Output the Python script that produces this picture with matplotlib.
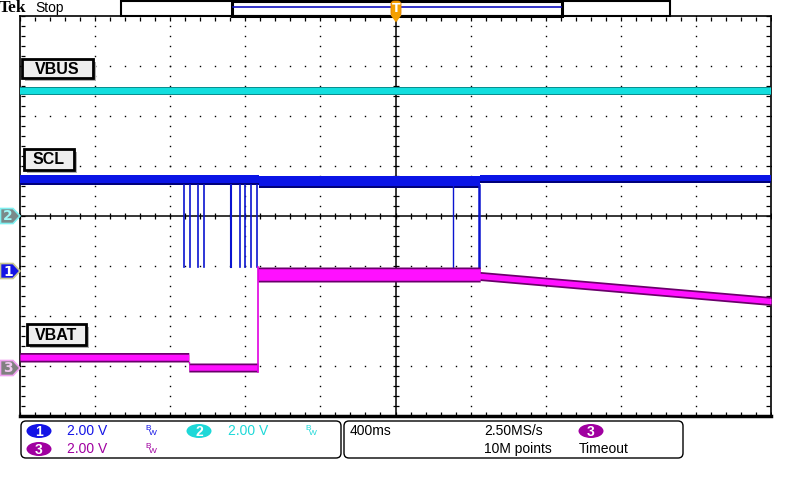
import numpy as np
import matplotlib
matplotlib.use("Agg")
import matplotlib.pyplot as plt
from matplotlib.patches import Rectangle, FancyBboxPatch, Polygon, Ellipse

# Oszilloskop-Einstellungen
time_per_div = 0.4      # s/div (400ms)
volts_per_div = 2.0     # V/div fuer alle Kanaele
ch1_offset = -1.1       # Kanalmarker in div
ch2_offset = 0.0
ch3_offset = -3.04

# VBUS (Kanal 2), Band oben/unten in V
vbus_t = [-2.0, 2.0]
vbus_hi = [5.17, 5.17]
vbus_lo = [4.83, 4.83]

# SCL (Kanal 1)
scl_t = [-2.0, -0.728, -0.728, 0.451, 0.451, 2.0]
scl_hi = [3.84, 3.84, 3.80, 3.80, 3.84, 3.84]
scl_lo = [3.44, 3.44, 3.32, 3.32, 3.52, 3.52]
scl_dip_t = [-1.126, -1.094, -1.050, -1.021, -0.874, -0.828, -0.799, -0.769, -0.737, 0.308, 0.447]
scl_dip_w = [1.2, 1.2, 1.2, 1.2, 1.5, 1.2, 1.2, 1.2, 1.2, 1.0, 1.8]
scl_low = 0.16

# VBAT (Kanal 3)
vbat_t = [-2.0, -1.101, -1.101, -0.733, -0.733, 0.451, 0.451, 2.0]
vbat_hi = [0.62, 0.62, 0.20, 0.20, 4.04, 4.04, 3.86, 2.86]
vbat_lo = [0.24, 0.24, -0.16, -0.16, 3.44, 3.44, 3.50, 2.50]

# Texte
trace_labels = ['VBUS', 'SCL', 'VBAT']
scale_text = '2.00 V'
timebase_text = '400ms'
rate_text = '2.50MS/s'
points_text = '10M points'
trigger_text = 'Timeout'

fig = plt.figure(figsize=(8, 4.8), dpi=100)
ax = fig.add_axes([20 / 800, 64 / 480, 751 / 800, 400 / 480])
ax.set_xlim(-2, 2)
ax.set_ylim(-4, 4)
ax.set_xticks([])
ax.set_yticks([])
for s in ax.spines.values():
    s.set_color('black')
    s.set_linewidth(1.2)
ax.spines['bottom'].set_linewidth(2.5)

# Raster: Punkte auf den Hauptlinien
minor_x = np.arange(-2, 2.0001, time_per_div / 5)
minor_y = np.arange(-4, 4.0001, 0.2)
for gx in np.arange(-1.6, 1.6001, time_per_div):
    if abs(gx) < 1e-9:
        continue
    ax.plot(np.full_like(minor_y, gx), minor_y, ls='none', marker='s', ms=1.0,
            mec='none', mfc='black', zorder=1)
for gy in range(-3, 4):
    if gy == 0:
        continue
    ax.plot(minor_x, np.full_like(minor_x, gy), ls='none', marker='s', ms=1.0,
            mec='none', mfc='black', zorder=1)

# Mittellinien mit Strichen
ax.axhline(0, color='black', lw=1.1, zorder=1)
ax.axvline(0, color='black', lw=1.1, zorder=1)
ax.plot(minor_x, np.zeros_like(minor_x), ls='none', marker='|', ms=5, mew=0.9, color='black', zorder=1)
ax.plot(np.zeros_like(minor_y), minor_y, ls='none', marker='_', ms=5, mew=0.9, color='black', zorder=1)
# Randstriche
ax.plot(minor_x, np.full_like(minor_x, 3.95), ls='none', marker='|', ms=2.5, mew=0.9, color='black', zorder=1)
ax.plot(minor_x, np.full_like(minor_x, -3.95), ls='none', marker='|', ms=2.5, mew=0.9, color='black', zorder=1)
ax.plot(np.full_like(minor_y, -1.985), minor_y, ls='none', marker='_', ms=2.5, mew=0.9, color='black', zorder=1)
ax.plot(np.full_like(minor_y, 1.985), minor_y, ls='none', marker='_', ms=2.5, mew=0.9, color='black', zorder=1)


def band(t, lo, hi, off, dark, core, inset_lo, inset_hi):
    lo_d = off + np.array(lo) / volts_per_div
    hi_d = off + np.array(hi) / volts_per_div
    ax.fill_between(t, lo_d, hi_d, color=dark, lw=0, zorder=3)
    ax.fill_between(t, lo_d + inset_lo, hi_d - inset_hi, color=core, lw=0, zorder=4)


# VBUS
band(vbus_t, vbus_lo, vbus_hi, ch2_offset, '#0a8f8f', '#12dede', 0.03, 0.02)

# SCL
band(scl_t, scl_lo, scl_hi, ch1_offset, '#00007a', '#0a14e6', 0.05, 0.0)
for t, w in zip(scl_dip_t, scl_dip_w):
    ax.plot([t, t], [ch1_offset + scl_low / volts_per_div, ch1_offset + scl_lo[0] / volts_per_div],
            color='#0a14d0', lw=w, zorder=3)

# VBAT
band(vbat_t, vbat_lo, vbat_hi, ch3_offset, '#6a006a', '#ff10ff', 0.035, 0.035)
ax.plot([vbat_t[3], vbat_t[3]], [ch3_offset + vbat_lo[3] / volts_per_div, ch3_offset + vbat_hi[4] / volts_per_div],
        color='#e000e0', lw=1.2, zorder=4)
ax.plot([vbat_t[1], vbat_t[1]], [ch3_offset + vbat_lo[1] / volts_per_div, ch3_offset + vbat_hi[2] / volts_per_div],
        color='#e000e0', lw=1.0, zorder=4)

# Overlay in Pixelkoordinaten
ov = fig.add_axes([0, 0, 1, 1], zorder=5)
ov.set_xlim(0, 800)
ov.set_ylim(480, 0)
ov.axis('off')
ov.patch.set_alpha(0)

# Kopfzeile
ov.text(-1, 8, 'Tek', fontsize=12.5, fontweight='bold', family='Liberation Serif', va='center', ha='left')
ov.text(35, 8, 'Stop', fontsize=10, family='Liberation Sans', va='center', ha='left')
ov.add_patch(Rectangle((121, 0.5), 549, 15, fill=False, ec='black', lw=1.5))
ov.add_patch(Rectangle((232, 0.5), 330, 15, fill=False, ec='black', lw=2.2))
ov.plot([233, 561], [7, 7], color='#1010c0', lw=1.2)
ov.add_patch(FancyBboxPatch((391, 1), 10, 15, boxstyle='round,pad=0,rounding_size=3',
                            fc='#f5a000', ec='#e08000', lw=0.6, zorder=6))
ov.add_patch(Polygon([(390.5, 15), (401.5, 15), (396, 22.5)], closed=True, fc='#f5a000', ec='none', zorder=6))
ov.text(396, 9, 'T', color='white', fontsize=9, fontweight='bold', ha='center', va='center', zorder=7)

# Beschriftungen der Kurven
label_boxes = [(22, 59, 71, 19), (24, 149, 50, 21), (27, 324, 59, 21)]
for name, (bx, by, bw, bh) in zip(trace_labels, label_boxes):
    ov.add_patch(Rectangle((bx + 3, by + 3), bw, bh, fc='#b0b0b0', ec='none', zorder=6))
    ov.add_patch(Rectangle((bx, by), bw, bh, fc='#eeeeee', ec='black', lw=2, zorder=7))
    ov.text(bx + bw / 2, by + bh / 2 + 0.5, name, fontsize=11.5, fontweight='bold',
            family='Liberation Sans', ha='center', va='center', zorder=8)

# Kanalmarker links
markers = [('2', 216, '#7a8a8a', '#7ff0f0', '#9ff8f8'),
           ('1', 271, '#1414e6', '#c8c890', 'white'),
           ('3', 368, '#808080', '#f0a0f0', '#f0c8f0')]
for num, my, fc, ec, tc in markers:
    ov.add_patch(Polygon([(0.5, my - 7.5), (13, my - 7.5), (20, my), (13, my + 7.5), (0.5, my + 7.5)],
                         closed=True, fc=fc, ec=ec, lw=1.2))
    ov.text(8, my + 0.5, num, color=tc, fontsize=10, fontweight='bold', ha='center', va='center')

# Infozeile unten
ov.add_patch(FancyBboxPatch((21, 421), 320, 37, boxstyle='round,pad=0,rounding_size=5',
                            fill=False, ec='black', lw=1))
ov.add_patch(FancyBboxPatch((344, 421), 339, 37, boxstyle='round,pad=0,rounding_size=5',
                            fill=False, ec='black', lw=1))

ch_info = [('1', 39, 431, '#1414e6', 67, 145),
           ('2', 199, 431, '#1ed8d8', 228, 305),
           ('3', 39, 449, '#a000a0', 67, 145)]
for num, ex, ey, col, tx, bwx in ch_info:
    ov.add_patch(Ellipse((ex, ey), 25, 14, fc=col, ec='none'))
    ov.text(ex, ey + 0.5, num, color='white', fontsize=10, fontweight='bold', ha='center', va='center',
            family='Liberation Sans')
    ov.text(tx, ey, scale_text, color=col, fontsize=10, family='Liberation Sans', ha='left', va='center')
    ov.text(bwx, ey - 2.5, 'B', color=col, fontsize=6, family='Liberation Sans', ha='left', va='center')
    ov.text(bwx + 4, ey + 2.5, 'W', color=col, fontsize=6, family='Liberation Sans', ha='left', va='center')

ov.text(350, 431, timebase_text, fontsize=10, family='Liberation Sans', ha='left', va='center')
ov.text(484, 431, rate_text, fontsize=10, family='Liberation Sans', ha='left', va='center')
ov.text(484, 449, points_text, fontsize=10, family='Liberation Sans', ha='left', va='center')
ov.add_patch(Ellipse((591, 431), 25, 14, fc='#a000a0', ec='none'))
ov.text(591, 431.5, '3', color='white', fontsize=10, fontweight='bold', ha='center', va='center',
        family='Liberation Sans')
ov.text(579, 449, trigger_text, fontsize=10, family='Liberation Sans', ha='left', va='center')

fig.savefig('out.png', dpi=100)
